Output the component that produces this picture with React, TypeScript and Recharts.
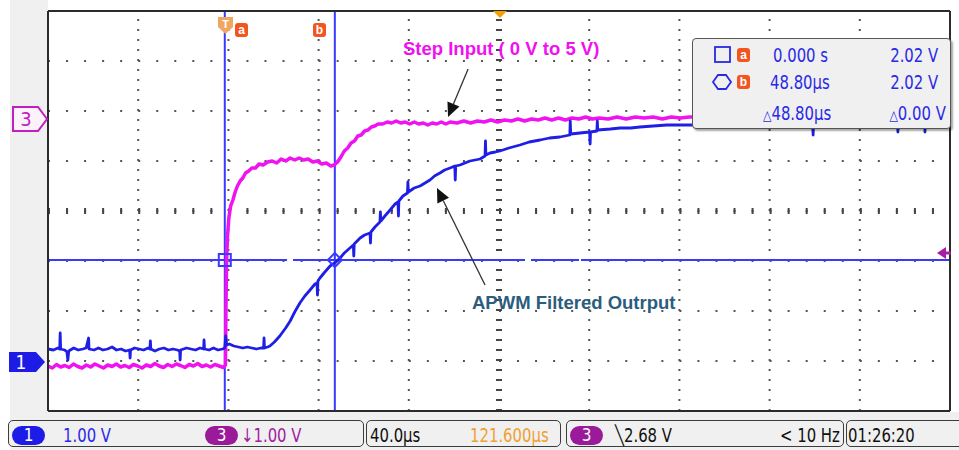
import React from 'react';
import { ComposedChart, Line, XAxis, YAxis, ReferenceLine, ReferenceDot } from 'recharts';

// ---- axes / scope settings (time in µs, voltage in Ch1 volts) ----
const timeDomain: [number, number] = [-78.4, 321.6];
const voltDomain: [number, number] = [-1, 7];
const gridTimes = [-78.4, -38.4, 1.6, 41.6, 81.6, 121.6, 161.6, 201.6, 241.6, 281.6, 321.6];
const gridVolts = [-1, 0, 1, 2, 3, 4, 5, 6, 7];
const minorTimeTicks = Array.from({ length: 51 }, (_, i) => -78.4 + i * 8);
const minorVoltTicks = Array.from({ length: 41 }, (_, i) => -1 + i * 0.2);
const centerTime = 121.6;
const centerVolt = 3;
const cursorATime = 0;
const cursorBTime = 48.8;
const cursorLevel = 2.02;

// ---- Ch1 : APWM filtered output [time µs, volts] ----
const ch1Trace: [number, number][] = [
  [-78.4, 0.24], [-76, 0.22], [-74, 0.26], [-73.2, 0.24], [-73.0, 0.56], [-72.8, 0.24], [-71, 0.22],
  [-70, 0.18], [-69.6, 0.02], [-69.2, 0.2], [-67, 0.26], [-65, 0.22], [-63, 0.24], [-61.5, 0.26],
  [-60.4, 0.46], [-60.2, 0.24], [-58, 0.22], [-56, 0.26], [-54, 0.22], [-52, 0.24], [-50, 0.28],
  [-48, 0.22], [-46, 0.24], [-44, 0.2], [-42.2, 0.22], [-42, 0.06], [-41.8, 0.22], [-40, 0.26],
  [-38, 0.24], [-36, 0.22], [-34, 0.26], [-33.2, 0.24], [-33.0, 0.4], [-32.8, 0.24], [-31, 0.2],
  [-29, 0.24], [-27, 0.26], [-25, 0.22], [-23, 0.24], [-21, 0.22], [-20, 0.2], [-19.8, 0.02],
  [-19.6, 0.22], [-17, 0.26], [-15, 0.24], [-13, 0.22], [-11, 0.26], [-9.4, 0.24], [-9.2, 0.42],
  [-9.0, 0.24], [-7, 0.22], [-5, 0.26], [-3, 0.22], [-1, 0.24], [0, 0.26], [0.4, 0.5], [0.8, 0.32],
  [2, 0.34], [4, 0.3], [6, 0.28], [8, 0.26], [10, 0.28], [12, 0.26], [14, 0.24], [16, 0.26],
  [17.2, 0.26], [17.4, 0.46], [17.6, 0.26], [19, 0.28], [20, 0.3], [22, 0.38], [24.4, 0.5],
  [27, 0.66], [29, 0.8], [31, 0.98], [33.3, 1.16], [35.5, 1.3], [37.8, 1.42], [40, 1.54],
  [40.9, 1.56], [41.1, 1.32], [41.3, 1.6], [42.2, 1.66], [44, 1.76], [46.7, 1.9], [49.3, 1.98],
  [51.1, 2.06], [53, 2.16], [55.5, 2.26], [57, 2.32], [57.2, 2.1], [57.4, 2.34], [60, 2.46],
  [62, 2.52], [64.4, 2.56], [64.6, 2.36], [64.8, 2.58], [66.6, 2.68], [68.8, 2.78], [69, 2.98],
  [69.2, 2.8], [71, 2.9], [73.3, 3.02], [75.5, 3.14], [76.8, 3.18], [77.0, 2.9], [77.2, 3.2],
  [79, 3.3], [81, 3.36], [81.2, 3.58], [81.4, 3.38], [84, 3.46], [86.6, 3.5], [88.8, 3.56],
  [91, 3.62], [93, 3.7], [95.4, 3.76], [97.5, 3.82], [99.9, 3.86], [102, 3.9], [102.2, 3.62],
  [102.4, 3.9], [104.3, 3.92], [106.5, 3.96], [108.7, 4.0], [111, 4.02], [113.2, 4.04],
  [115.4, 4.1], [115.6, 4.4], [115.8, 4.12], [117.6, 4.16], [120, 4.18], [122, 4.2], [126, 4.26],
  [130.9, 4.32], [135, 4.38], [139.8, 4.42], [144, 4.46], [148.6, 4.48], [153, 4.52], [153.2, 4.8],
  [153.4, 4.54], [157.5, 4.56], [161.8, 4.58], [162, 4.34], [162.2, 4.58], [165, 4.6], [165.2, 4.8],
  [165.4, 4.62], [171, 4.64], [175.3, 4.66], [180, 4.66], [184.1, 4.68], [190, 4.7], [196, 4.72],
  [202, 4.72], [210, 4.72], [220, 4.74], [232, 4.74], [245, 4.76], [255, 4.76], [260.7, 4.76],
  [260.9, 4.52], [261.1, 4.76], [275, 4.78], [290, 4.78], [298.3, 4.78], [298.5, 4.58],
  [298.7, 4.78], [310.3, 4.8], [310.5, 4.58], [310.7, 4.8], [321.6, 4.8],
];

// ---- Ch3 : step input [time µs, volts on screen] ----
const ch3Trace: [number, number][] = [
  [-78.4, -0.1], [-76.5, -0.14], [-74.6, -0.07], [-72.8, -0.12], [-70.9, -0.09], [-69, -0.13],
  [-67.1, -0.06], [-65.2, -0.11], [-63.3, -0.14], [-61.4, -0.08], [-59.5, -0.12], [-57.6, -0.06],
  [-55.7, -0.1], [-53.8, -0.14], [-51.9, -0.08], [-50, -0.11], [-48.1, -0.06], [-46.2, -0.12],
  [-44.3, -0.09], [-42.4, -0.13], [-40.5, -0.07], [-38.6, -0.1], [-36.7, -0.14], [-34.8, -0.08],
  [-32.9, -0.11], [-31, -0.05], [-29.1, -0.1], [-27.2, -0.13], [-25.3, -0.07], [-23.4, -0.11],
  [-21.5, -0.06], [-19.6, -0.09], [-17.7, -0.13], [-15.8, -0.07], [-13.9, -0.1], [-12, -0.05],
  [-10.1, -0.11], [-8.2, -0.08], [-6.3, -0.12], [-4.4, -0.07], [-2.5, -0.1], [-0.6, -0.13],
  [0.3, -0.08], [0.5, 1.0], [0.8, 2.0], [1.2, 2.5], [1.8, 2.86], [2.6, 3.1], [3.6, 3.22],
  [4.6, 3.38], [5.6, 3.5], [6.8, 3.6], [8, 3.66], [9.2, 3.76], [10.6, 3.8], [12, 3.86],
  [13.6, 3.86], [15.2, 3.94], [17, 3.92], [19, 3.98], [21, 4.0], [23, 3.96], [25, 4.04], [27, 4.0],
  [29, 4.06], [31, 4.02], [33, 4.06], [35, 4.02], [37, 4.04], [39, 3.98], [41, 4.0], [43, 3.94],
  [45, 3.96], [47, 3.9], [48.5, 3.92], [50, 3.98], [51.5, 4.08], [53, 4.2], [54.5, 4.26],
  [56, 4.36], [57.5, 4.4], [59, 4.5], [60.5, 4.52], [62, 4.6], [63.5, 4.62], [65, 4.68],
  [66.5, 4.7], [68, 4.74], [70, 4.74], [72, 4.78], [74, 4.76], [76, 4.8], [78, 4.76], [80, 4.78],
  [82, 4.74], [84, 4.78], [86, 4.74], [88, 4.76], [90, 4.72], [92, 4.76], [94, 4.74], [96, 4.78],
  [98, 4.74], [100, 4.78], [103, 4.76], [106, 4.8], [109, 4.76], [112, 4.8], [115, 4.78],
  [118, 4.82], [121, 4.78], [124, 4.82], [127, 4.8], [130, 4.84], [133, 4.8], [136, 4.84],
  [139, 4.82], [142, 4.86], [145, 4.82], [148, 4.86], [151, 4.82], [154, 4.86], [157, 4.84],
  [160, 4.88], [163, 4.84], [166, 4.86], [170, 4.84], [174, 4.88], [178, 4.84], [182, 4.88],
  [186, 4.86], [190, 4.88], [194, 4.84], [198, 4.88], [202, 4.86], [206, 4.88], [215, 4.88],
  [230, 4.9], [250, 4.88], [270, 4.9], [290, 4.9], [310, 4.92], [321.6, 4.9],
];

// ---- annotation arrows [tail, tip] in (µs, V) ----
const stepArrow = [{ x: 107.9, y: 5.84 }, { x: 99.0, y: 4.88 }];
const apwmArrow = [{ x: 115.4, y: 1.52 }, { x: 94.1, y: 3.46 }];

// ---- readout texts ----
const statusTexts = {
  ch1Scale: '1.00 V',
  ch3Scale: '↓1.00 V',
  timebase: '40.0\u00b5s',
  position: '121.600\u00b5s',
  trigger: '2.68 V',
  freq: '< 10 Hz',
  clock: '01:26:20',
};
const cursorRows = [
  { time: '0.000 s', volt: '2.02 V' },
  { time: '48.80\u00b5s', volt: '2.02 V' },
  { time: '48.80\u00b5s', volt: '0.00 V' },
];

const ch1Data = ch1Trace.map(([t, v]) => ({ t, v }));
const ch3Data = ch3Trace.map(([t, v]) => ({ t, v }));

const NARROW = "'DejaVu Sans Condensed', 'Liberation Sans Narrow', sans-serif";
const BLUE_TXT = '#2a2ae6';

const Arrow = (props: any) => {
  const { x1, y1, x2, y2 } = props;
  const ang = Math.atan2(y2 - y1, x2 - x1);
  const L = 14;
  const W = 6.5;
  const bx = x2 - L * Math.cos(ang);
  const by = y2 - L * Math.sin(ang);
  const px = -Math.sin(ang) * W;
  const py = Math.cos(ang) * W;
  return (
    <g>
      <line x1={x1} y1={y1} x2={bx} y2={by} stroke="#333" strokeWidth={1.3} />
      <polygon points={`${x2},${y2} ${bx + px},${by + py} ${bx - px},${by - py}`} fill="#111" />
    </g>
  );
};

const SquareDot = (props: any) => (
  <rect x={props.cx - 6} y={props.cy - 6} width={12} height={12} fill="none" stroke="#3a3aff" strokeWidth={2} />
);
const DiamondDot = (props: any) => (
  <polygon
    points={`${props.cx},${props.cy - 7} ${props.cx + 7},${props.cy} ${props.cx},${props.cy + 7} ${props.cx - 7},${props.cy}`}
    fill="none"
    stroke="#3a3aff"
    strokeWidth={2}
  />
);

const Txt = ({ x, yc, size = 19, color = BLUE_TXT, children, right, family = NARROW, weight = 400, sx = 0.87 }: any) => (
  <div
    style={{
      position: 'absolute',
      left: right === undefined ? x : undefined,
      right: right !== undefined ? 959 - right : undefined,
      top: yc - size * 0.6,
      height: size * 1.2,
      lineHeight: `${size * 1.2}px`,
      fontSize: size,
      color,
      fontFamily: family,
      fontWeight: weight,
      whiteSpace: 'nowrap',
      transform: `scaleX(${sx})`,
      transformOrigin: right === undefined ? 'left center' : 'right center',
    }}
  >
    {children}
  </div>
);

const Badge = ({ x, y, w, h, bg, label, r = 10, size = 17 }: any) => (
  <div
    style={{
      position: 'absolute',
      left: x,
      top: y,
      width: w,
      height: h,
      borderRadius: r,
      background: bg,
      color: '#fff',
      fontFamily: NARROW,
      fontSize: size,
      lineHeight: `${h}px`,
      textAlign: 'center',
    }}
  >
    {label}
  </div>
);

const boxStyle = (left: number, width: number): React.CSSProperties => ({
  position: 'absolute',
  left,
  top: 420,
  width,
  height: 27,
  border: '1.5px solid #3c3c3c',
  borderRadius: 5,
  background: '#f0f0f0',
  boxSizing: 'border-box',
});

export default function App() {
  return (
    <div style={{ position: 'absolute', left: 0, top: 0, width: 959, height: 450, background: '#fff', overflow: 'hidden' }}>
      {/* grey panels around the screen */}
      <div style={{ position: 'absolute', left: 10, top: 0, width: 38, height: 450, background: '#f0f0f0' }} />
      <div style={{ position: 'absolute', left: 10, top: 412, width: 949, height: 38, background: '#f0f0f0' }} />

      <div style={{ position: 'absolute', left: 0, top: 0 }}>
        <ComposedChart width={959} height={450} margin={{ top: 11, right: 9, bottom: 39, left: 48 }}>
          <XAxis xAxisId="x" dataKey="t" type="number" domain={timeDomain} allowDataOverflow
            orientation="bottom" mirror ticks={minorTimeTicks} tick={false} tickSize={5}
            axisLine={{ stroke: '#2b2b2b', strokeWidth: 2 }} tickLine={{ stroke: '#2b2b2b', strokeWidth: 2 }} />
          <XAxis xAxisId="xt" dataKey="t" type="number" domain={timeDomain} allowDataOverflow
            orientation="top" mirror ticks={minorTimeTicks} tick={false} tickSize={5}
            axisLine={{ stroke: '#2b2b2b', strokeWidth: 2 }} tickLine={{ stroke: '#2b2b2b', strokeWidth: 2 }} />
          <YAxis yAxisId="y" type="number" domain={voltDomain} allowDataOverflow
            orientation="left" mirror ticks={minorVoltTicks} tick={false} tickSize={5}
            axisLine={{ stroke: '#2b2b2b', strokeWidth: 2 }} tickLine={{ stroke: '#2b2b2b', strokeWidth: 2 }} />
          <YAxis yAxisId="yr" type="number" domain={voltDomain} allowDataOverflow
            orientation="right" mirror ticks={minorVoltTicks} tick={false} tickSize={5}
            axisLine={{ stroke: '#2b2b2b', strokeWidth: 2 }} tickLine={{ stroke: '#2b2b2b', strokeWidth: 2 }} />

          {/* dotted graticule */}
          {gridTimes.slice(1, -1).map((t) => (
            <ReferenceLine key={'gx' + t} xAxisId="x" yAxisId="y" x={t} stroke="#555" strokeWidth={2} strokeDasharray="2 8" />
          ))}
          {gridVolts.slice(1, -1).map((v) => (
            <ReferenceLine key={'gy' + v} xAxisId="x" yAxisId="y" y={v} stroke="#555" strokeWidth={2} strokeDasharray="2 16.04" />
          ))}
          <ReferenceLine xAxisId="x" yAxisId="y" x={centerTime} stroke="#444" strokeWidth={6} strokeDasharray="2 8" />
          <ReferenceLine xAxisId="x" yAxisId="y" y={centerVolt} stroke="#444" strokeWidth={6} strokeDasharray="2 16.04" />

          {/* cursors */}
          <ReferenceLine xAxisId="x" yAxisId="y" y={cursorLevel} stroke="#3a3aff" strokeWidth={2}
            strokeDasharray="239 6 232 6 48 2 1000" />
          <ReferenceLine xAxisId="x" yAxisId="y" x={cursorATime} stroke="#3a3aff" strokeWidth={2} />
          <ReferenceLine xAxisId="x" yAxisId="y" x={cursorBTime} stroke="#3a3aff" strokeWidth={2} />

          <Line data={ch3Data} xAxisId="x" yAxisId="y" dataKey="v" type="linear" dot={false}
            stroke="#f012f0" strokeWidth={3.5} strokeLinejoin="round" isAnimationActive={false} />
          <Line data={ch1Data} xAxisId="x" yAxisId="y" dataKey="v" type="linear" dot={false}
            stroke="#1e1ee6" strokeWidth={2.8} strokeLinejoin="round" isAnimationActive={false} />

          <ReferenceDot xAxisId="x" yAxisId="y" x={cursorATime} y={cursorLevel} shape={SquareDot} />
          <ReferenceDot xAxisId="x" yAxisId="y" x={cursorBTime} y={cursorLevel} shape={DiamondDot} />

          <ReferenceLine xAxisId="x" yAxisId="y" segment={stepArrow} shape={Arrow} />
          <ReferenceLine xAxisId="x" yAxisId="y" segment={apwmArrow} shape={Arrow} />
        </ComposedChart>
      </div>

      {/* annotations */}
      <Txt x={403} yc={49.5} size={18.5} sx={1} color="#f010f0" family="'Liberation Sans', Arial, sans-serif" weight={700}>
        Step Input ( 0 V to 5 V)
      </Txt>
      <Txt x={472} yc={303} size={18.5} sx={1} color="#2b5d7e" family="'Liberation Sans', Arial, sans-serif" weight={700}>
        APWM Filtered Outrput
      </Txt>

      {/* channel markers */}
      <svg style={{ position: 'absolute', left: 0, top: 0 }} width={959} height={450}>
        <polygon points="13,107 38,107 47,119 38,131 13,131" fill="#fbf2fb" stroke="#c020c0" strokeWidth={2} />
        <text x={26} y={126} fontSize={20} fill="#c020c0" textAnchor="middle" fontFamily={NARROW}>3</text>
        <polygon points="9,352 36,352 45,362 36,372 9,372" fill="#1c1ce6" />
        <text x={21} y={369} fontSize={19} fill="#fff" textAnchor="middle" fontFamily={NARROW}>1</text>
        <polygon points="937,253 946,247 946,259" fill="#a81ca8" />
        <line x1={944} y1={253} x2={951} y2={253} stroke="#a81ca8" strokeWidth={3} />
        <polygon points="218,17 233,17 233,27 225.5,34 218,27" fill="#f0a560" />
        <text x={225.5} y={28} fontSize={11} fill="#fff" textAnchor="middle" fontFamily="sans-serif" fontWeight={700}>T</text>
        <rect x={235} y={23} width={13} height={14} rx={3} fill="#f2561e" />
        <text x={241.5} y={34} fontSize={12} fill="#fff" textAnchor="middle" fontFamily="sans-serif" fontWeight={700}>a</text>
        <rect x={313} y={23} width={13} height={14} rx={3} fill="#f2561e" />
        <text x={319.5} y={34} fontSize={12} fill="#fff" textAnchor="middle" fontFamily="sans-serif" fontWeight={700}>b</text>
        <polygon points="493,11 507,11 500,18" fill="#f5a000" />
      </svg>

      {/* cursor readout box */}
      <div style={{ position: 'absolute', left: 692, top: 38, width: 259, height: 91, background: '#f0f0f0',
        border: '1.5px solid #555', borderRadius: 4, boxSizing: 'border-box', boxShadow: '2px 2px 2px rgba(0,0,0,0.35)' }} />
      <svg style={{ position: 'absolute', left: 0, top: 0 }} width={959} height={450}>
        <rect x={715} y={47} width={15} height={15} fill="none" stroke={BLUE_TXT} strokeWidth={1.8} />
        <rect x={737} y={48} width={13} height={14} rx={3} fill="#f2561e" />
        <text x={743.5} y={59} fontSize={12} fill="#fff" textAnchor="middle" fontFamily="sans-serif" fontWeight={700}>a</text>
        <polygon points="718,75 726,75 731,82 726,89 718,89 713,82" fill="none" stroke={BLUE_TXT} strokeWidth={1.8} />
        <rect x={737} y={75} width={13} height={14} rx={3} fill="#f2561e" />
        <text x={743.5} y={86} fontSize={12} fill="#fff" textAnchor="middle" fontFamily="sans-serif" fontWeight={700}>b</text>
      </svg>
      <Txt x={773} yc={55}>{cursorRows[0].time}</Txt>
      <Txt right={938} yc={55}>{cursorRows[0].volt}</Txt>
      <Txt x={770} yc={82}>{cursorRows[1].time}</Txt>
      <Txt right={938} yc={82}>{cursorRows[1].volt}</Txt>
      <Txt x={763} yc={113}><span style={{ fontSize: 14 }}>△</span>{cursorRows[2].time}</Txt>
      <Txt right={946} yc={113}><span style={{ fontSize: 14 }}>△</span>{cursorRows[2].volt}</Txt>

      {/* status bar */}
      <div style={boxStyle(8, 356)} />
      <div style={boxStyle(366, 195)} />
      <div style={boxStyle(566, 278)} />
      <div style={boxStyle(846, 120)} />
      <Badge x={12} y={426} w={33} h={19} bg="#1c1ce6" label="1" />
      <Txt x={63} yc={435}>{statusTexts.ch1Scale}</Txt>
      <Badge x={205} y={426} w={33} h={19} bg="#9a1a9a" label="3" />
      <Txt x={241} yc={435} color="#a020a0">{statusTexts.ch3Scale}</Txt>
      <Txt x={370} yc={435} color="#111">{statusTexts.timebase}</Txt>
      <Txt x={470} yc={435} color="#f0a030">{statusTexts.position}</Txt>
      <Badge x={570} y={426} w={33} h={19} bg="#9a1a9a" label="3" />
      <Txt x={615} yc={435} color="#111">╲{statusTexts.trigger}</Txt>
      <Txt x={780} yc={435} color="#111">{statusTexts.freq}</Txt>
      <Txt x={848} yc={435} color="#111">{statusTexts.clock}</Txt>
    </div>
  );
}
